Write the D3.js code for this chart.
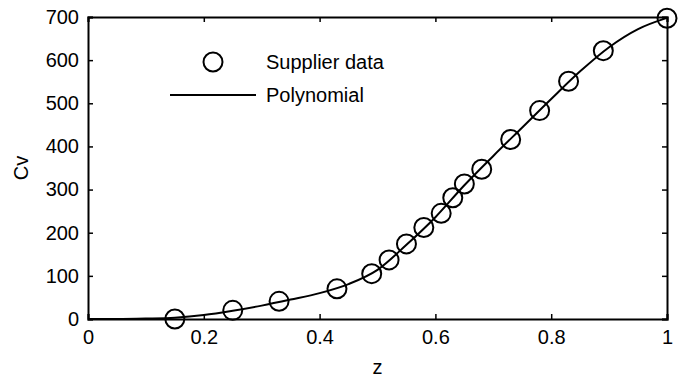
<!DOCTYPE html>
<html>
<head>
  <meta charset="UTF-8" />
  <script src="https://cdn.jsdelivr.net/npm/d3@7/dist/d3.min.js"></script>
  <style>
    body { margin: 0; background: #fff; font-family: "Liberation Sans", Arial, sans-serif; }
    #viz { width: 683px; height: 380px; }
  </style>
</head>
<body>
  <div id="viz"></div>
  <script>
  // supplier data
  const dataZ  = [0.15, 0.25, 0.33, 0.43, 0.49, 0.52, 0.55, 0.58, 0.61, 0.63, 0.65, 0.68, 0.73, 0.78, 0.83, 0.89, 1.0];
  const dataCv = [0, 20, 41, 70, 105, 137, 174, 212, 245, 281, 313, 347, 416, 483, 551, 622, 697];

  // polynomial curve
  const polyZ  = [0, 0.05, 0.1, 0.15, 0.2, 0.25, 0.3, 0.35, 0.4, 0.45, 0.5, 0.55, 0.6, 0.65, 0.7, 0.75, 0.8, 0.85, 0.9, 0.95, 1.0];
  const polyCv = [0, 0, 1, 3, 9, 19, 31, 45, 60, 81, 114, 172, 236, 310, 378, 444, 510, 574, 630, 672, 698];

  const xTicks = [0, 0.2, 0.4, 0.6, 0.8, 1];
  const xTickLabels = ['0', '0.2', '0.4', '0.6', '0.8', '1'];
  const yTicks = [0, 100, 200, 300, 400, 500, 600, 700];

  const legendLabels = ['Supplier data', 'Polynomial'];

  function drawViz() {
    const margin = { top: 17, right: 16, bottom: 61, left: 88 };
    const W = 683, H = 380;
    const width = W - margin.left - margin.right;
    const height = H - margin.top - margin.bottom;

    const svg = d3.select('#viz').append('svg')
      .attr('width', W).attr('height', H);
    const g = svg.append('g')
      .attr('transform', `translate(${margin.left},${margin.top})`);

    const x = d3.scaleLinear().domain([0, 1]).range([0, width]);
    const y = d3.scaleLinear().domain([0, 700]).range([height, 0]);

    const fs = '20px';

    // axes (ticks inward, mirrored on top/right)
    const ax = g.append('g').attr('transform', `translate(0,${height})`)
      .call(d3.axisBottom(x).tickValues(xTicks).tickSize(-5).tickPadding(11)
        .tickFormat((d, i) => xTickLabels[i]));
    const ay = g.append('g')
      .call(d3.axisLeft(y).tickValues(yTicks).tickSize(-5).tickPadding(9));
    const at = g.append('g')
      .call(d3.axisTop(x).tickValues(xTicks).tickSize(-5).tickFormat(''));
    const ar = g.append('g').attr('transform', `translate(${width},0)`)
      .call(d3.axisRight(y).tickValues(yTicks).tickSize(-5).tickFormat(''));

    [ax, ay, at, ar].forEach(a => {
      a.select('.domain').attr('stroke', '#000').attr('stroke-width', 2);
      a.selectAll('.tick line').attr('stroke', '#000').attr('stroke-width', 1.5);
      a.selectAll('.tick text')
        .attr('fill', '#000')
        .style('font-size', fs)
        .style('font-family', '"Liberation Sans", Arial, sans-serif');
    });

    // polynomial line
    const line = d3.line()
      .x((d, i) => x(polyZ[i]))
      .y((d, i) => y(polyCv[i]))
      .curve(d3.curveMonotoneX);
    g.append('path')
      .datum(polyZ)
      .attr('fill', 'none')
      .attr('stroke', '#000')
      .attr('stroke-width', 2)
      .attr('d', line);

    // supplier data circles
    g.selectAll('circle.pt')
      .data(dataZ)
      .enter()
      .append('circle')
        .attr('class', 'pt')
        .attr('cx', d => x(d))
        .attr('cy', (d, i) => y(dataCv[i]))
        .attr('r', 9.5)
        .attr('fill', 'none')
        .attr('stroke', '#000')
        .attr('stroke-width', 2);

    // legend
    const lg = g.append('g').attr('transform', 'translate(82,45)');
    lg.append('circle')
      .attr('cx', 43).attr('cy', 0).attr('r', 9.5)
      .attr('fill', 'none').attr('stroke', '#000').attr('stroke-width', 2);
    lg.append('line')
      .attr('x1', 0).attr('x2', 86).attr('y1', 33).attr('y2', 33)
      .attr('stroke', '#000').attr('stroke-width', 2);
    lg.selectAll('text')
      .data(legendLabels)
      .enter()
      .append('text')
        .attr('x', 96)
        .attr('y', (d, i) => i * 33)
        .attr('dy', '0.35em')
        .style('font-size', fs)
        .text(d => d);

    // axis titles
    g.append('text')
      .attr('x', width / 2)
      .attr('y', height + 55)
      .attr('text-anchor', 'middle')
      .style('font-size', fs)
      .text('z');
    g.append('text')
      .attr('transform', `translate(${-60},${height / 2}) rotate(-90)`)
      .attr('text-anchor', 'middle')
      .style('font-size', fs)
      .text('Cv');
  }

  document.addEventListener('DOMContentLoaded', drawViz);
  </script>
</body>
</html>
